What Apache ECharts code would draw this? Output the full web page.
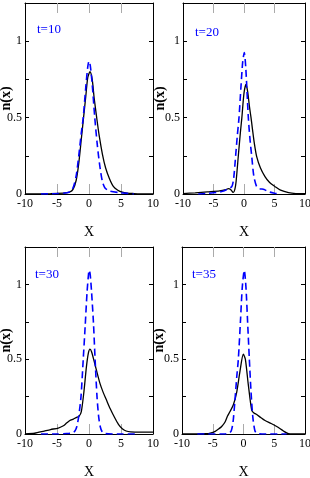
<!DOCTYPE html>
<html><head><meta charset="utf-8">
<script src="https://cdn.jsdelivr.net/npm/echarts@6/dist/echarts.min.js"></script>
<style>html,body{margin:0;padding:0;background:#fff}#c{width:310px;height:478px}</style>
</head><body><div id="c"></div>
<script>
// Panel labels
const panelLabels = ['t=10', 't=20', 't=30', 't=35'];
const xTickLabels = ['-10', '-5', '0', '5', '10'];
const yTickLabels = ['0', '0.5', '1'];

// t=10
const t10BlackX = [-10,-6,-4,-3,-2.5,-2,-1.6,-1.2,-0.9,-0.5,-0.2,0.15,0.5,0.8,1.2,1.6,2.1,2.6,3.2,3.8,4.5,5.2,6,7,8,10];
const t10BlackY = [0,0.002,0.006,0.013,0.03,0.09,0.2,0.36,0.48,0.64,0.76,0.8,0.75,0.63,0.5,0.38,0.26,0.17,0.1,0.05,0.025,0.012,0.006,0.003,0.001,0];
const t10BlueX = [-7.5,-5,-3.5,-2.8,-2.4,-2,-1.6,-1.2,-0.9,-0.5,-0.2,0,0.2,0.5,0.9,1.3,1.7,2.1,2.5,3.2,4.5,6,7];
const t10BlueY = [0,0.003,0.008,0.02,0.05,0.12,0.25,0.4,0.5,0.7,0.83,0.87,0.84,0.72,0.5,0.32,0.18,0.08,0.04,0.02,0.01,0.004,0];

// t=20
const t20BlackX = [-10,-8,-6,-4,-3,-2.57,-2.2,-1.9,-1.75,-1.5,-1.3,-0.93,-0.6,-0.35,0,0.33,0.6,0.9,1.15,1.37,1.7,2.08,2.7,3.44,4.2,5.1,6,7.3,8.5,10];
const t20BlackY = [0.003,0.008,0.014,0.02,0.028,0.035,0.03,0.015,0.01,0.03,0.08,0.25,0.4,0.5,0.66,0.717,0.67,0.57,0.5,0.43,0.33,0.245,0.17,0.114,0.075,0.048,0.025,0.009,0.003,0.002];
const t20BlueX = [-7.5,-6,-4.5,-3.5,-2.57,-2,-1.7,-1.37,-1.1,-0.82,-0.5,-0.2,0.05,0.3,0.71,1,1.26,1.6,2.08,2.6,3.3,4,5,5.9];
const t20BlueY = [0,0.004,0.01,0.018,0.035,0.048,0.1,0.25,0.38,0.5,0.7,0.87,0.925,0.82,0.5,0.35,0.25,0.12,0.048,0.035,0.03,0.015,0.005,0];

// t=30
const t30BlackX = [-10,-8.5,-7,-6,-4.8,-4,-3.5,-3,-2.45,-2,-1.56,-1.2,-0.8,-0.4,-0.1,0.15,0.4,0.78,1.2,1.7,2.2,2.7,3.3,4,4.6,5.2,5.8,6.5,8,10];
const t30BlackY = [0,0.005,0.02,0.03,0.04,0.055,0.073,0.09,0.1,0.11,0.118,0.15,0.28,0.45,0.54,0.567,0.55,0.49,0.42,0.34,0.28,0.23,0.17,0.11,0.065,0.035,0.02,0.014,0.012,0.012];
const t30BlueX = [-7.5,-5,-3.5,-2.6,-2.2,-1.9,-1.6,-1.25,-0.9,-0.6,-0.3,-0.05,0.05,0.2,0.4,0.7,0.95,1.25,1.5,1.75,2.05,2.4,3,5,7.5];
const t30BlueY = [0,0,0.003,0.008,0.02,0.05,0.12,0.25,0.5,0.72,0.95,1.08,1.095,1.06,0.95,0.74,0.5,0.25,0.12,0.05,0.015,0.004,0.001,0,0];

// t=35
const t35BlackX = [-10,-6,-5.4,-4.6,-4,-3.55,-3,-2.6,-2.2,-1.65,-1.1,-0.57,-0.03,0.3,0.78,1.33,1.7,2.15,2.8,3.5,4.5,5.4,6.5,7.3,8,10];
const t35BlackY = [0,0.002,0.006,0.018,0.035,0.05,0.08,0.12,0.15,0.195,0.28,0.42,0.533,0.5,0.33,0.16,0.14,0.13,0.11,0.09,0.07,0.05,0.02,0.002,0,0];
const t35BlueX = [-7.5,-3,-2.4,-2,-1.7,-1.4,-1.1,-0.84,-0.5,-0.2,0.13,0.4,0.7,0.95,1.2,1.5,1.87,2.3,3,7];
const t35BlueY = [0,0,0.005,0.02,0.08,0.22,0.38,0.5,0.75,0.98,1.095,0.98,0.72,0.5,0.3,0.12,0.02,0.003,0,0];

const panels = [
  {label: panelLabels[0], bx: t10BlackX, by: t10BlackY, ux: t10BlueX, uy: t10BlueY, grid: {left: 25, top: 3, width: 128, height: 191}, lx: 37, ly: 23, ng: 12},
  {label: panelLabels[1], bx: t20BlackX, by: t20BlackY, ux: t20BlueX, uy: t20BlueY, grid: {left: 183, top: 3, width: 122, height: 191}, lx: 195, ly: 26, ng: 16},
  {label: panelLabels[2], bx: t30BlackX, by: t30BlackY, ux: t30BlueX, uy: t30BlueY, grid: {left: 25, top: 247, width: 128, height: 187}, lx: 35, ly: 268, ng: 12},
  {label: panelLabels[3], bx: t35BlackX, by: t35BlackY, ux: t35BlueX, uy: t35BlueY, grid: {left: 182, top: 247, width: 123, height: 187}, lx: 192, ly: 268, ng: 16}
];

const font = 'Liberation Serif';
const grid = [], xAxis = [], yAxis = [], series = [], graphic = [];
panels.forEach((p, i) => {
  grid.push(Object.assign({outerBoundsMode: 'none', containLabel: false}, p.grid));
  const xBase = {
    gridIndex: i, type: 'value', min: -10, max: 10, interval: 5,
    axisLine: {show: true, onZero: false, lineStyle: {color: '#000', width: 1}},
    axisTick: {show: true, inside: true, length: 10, lineStyle: {color: '#aaa', width: 1}},
    splitLine: {show: false}
  };
  xAxis.push(Object.assign({}, xBase, {
    position: 'bottom', name: 'X', nameLocation: 'middle', nameGap: 31, nameMoveOverlap: false,
    nameTextStyle: {fontFamily: font, fontSize: 14, color: '#000'},
    axisLabel: {fontFamily: font, fontSize: 12, color: '#000', margin: 4,
      formatter: v => xTickLabels[Math.round((v + 10) / 5)]}
  }));
  xAxis.push(Object.assign({}, xBase, {position: 'top', axisLabel: {show: false}}));
  const yBase = {
    gridIndex: i, type: 'value', min: 0, max: 1.25, interval: 0.25, z: 5,
    axisLine: {show: true, onZero: false, lineStyle: {color: '#000', width: 1}},
    axisTick: {show: true, inside: true, length: 4, lineStyle: {color: '#000', width: 1}},
    splitLine: {show: false}
  };
  yAxis.push(Object.assign({}, yBase, {
    position: 'left', name: 'n(x)', nameLocation: 'middle', nameGap: p.ng, nameRotate: 90,
    nameMoveOverlap: false,
    nameTextStyle: {fontFamily: font, fontSize: 14, fontWeight: 'bold', color: '#000'},
    axisLabel: {fontFamily: font, fontSize: 12, color: '#000', margin: 3,
      formatter: v => v === 0 ? yTickLabels[0] : v === 0.5 ? yTickLabels[1] : v === 1 ? yTickLabels[2] : ''}
  }));
  yAxis.push(Object.assign({}, yBase, {position: 'right', axisLabel: {show: false}}));
  series.push({
    type: 'line', xAxisIndex: 2 * i, yAxisIndex: 2 * i, showSymbol: false, smooth: 0.25,
    data: p.bx.map((x, k) => [x, p.by[k]]),
    lineStyle: {color: '#000', width: 1.3}, z: 2
  });
  series.push({
    type: 'line', xAxisIndex: 2 * i, yAxisIndex: 2 * i, showSymbol: false, smooth: 0.25,
    data: p.ux.map((x, k) => [x, p.uy[k]]),
    lineStyle: {color: '#0000ff', width: 1.6, type: [7, 4]}, z: 3
  });
  graphic.push({type: 'text', left: p.lx, top: p.ly,
    style: {text: p.label, fill: '#0000ff', font: '13px "Liberation Serif"'}});
});

const chart = echarts.init(document.getElementById('c'), null, {renderer: 'canvas'});
chart.setOption({animation: false, grid, xAxis, yAxis, series, graphic});
</script></body></html>
